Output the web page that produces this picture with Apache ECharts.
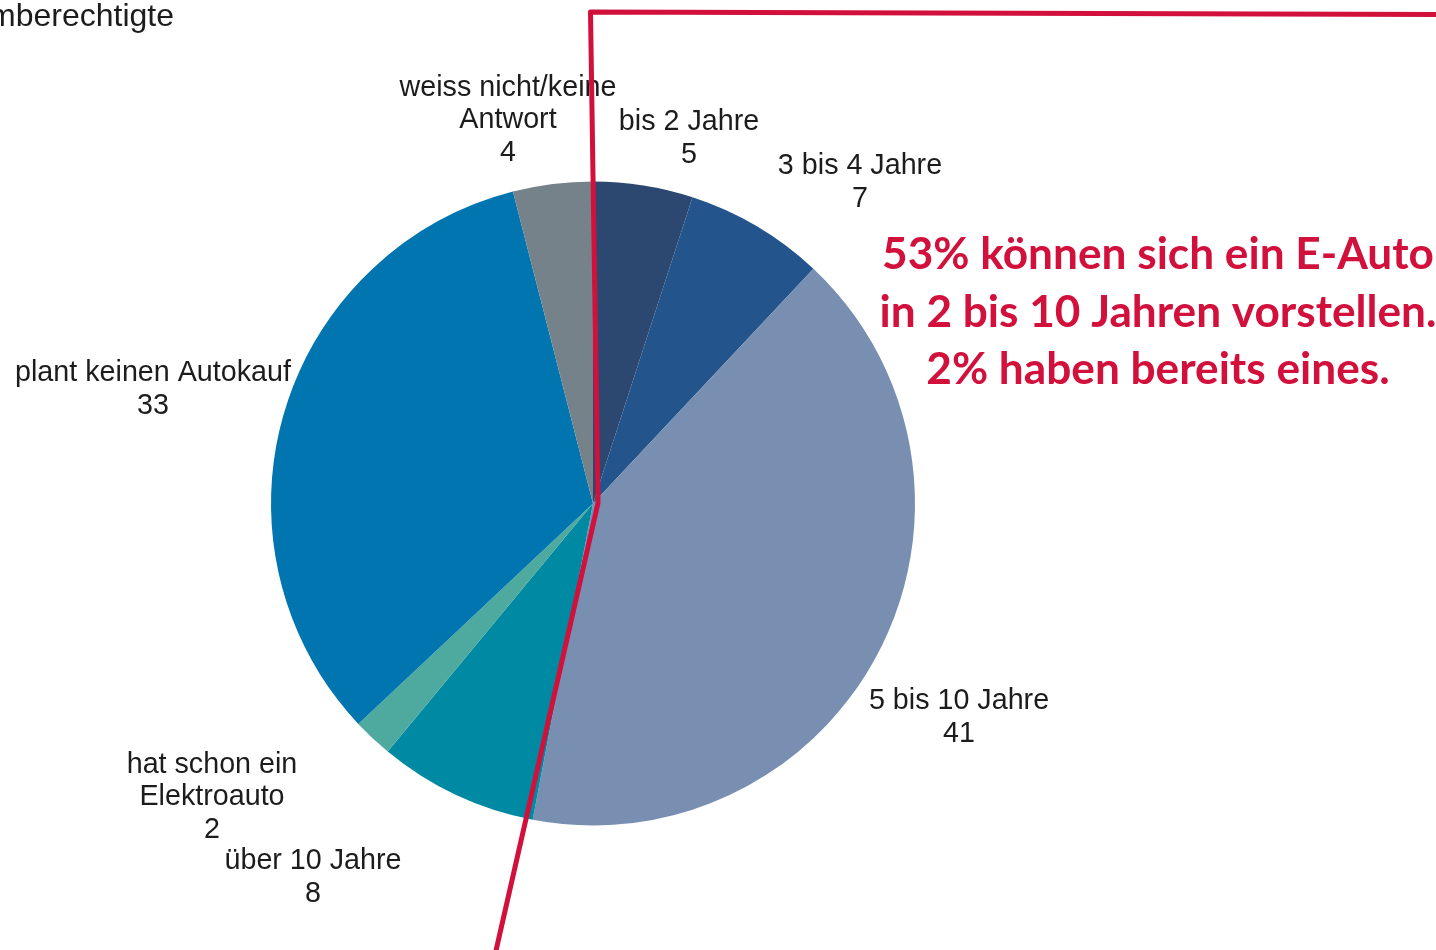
<!DOCTYPE html>
<html>
<head>
<meta charset="utf-8">
<script src="https://cdn.jsdelivr.net/npm/echarts@6/dist/echarts.min.js"></script>
<style>
  html, body { margin: 0; padding: 0; background: #fff; }
  #chart { width: 1436px; height: 950px; }
</style>
</head>
<body>
<div id="chart"></div>
<script>
// ---- data ----
const categories = [
  'bis 2 Jahre',
  '3 bis 4 Jahre',
  '5 bis 10 Jahre',
  'über 10 Jahre',
  'hat schon ein\nElektroauto',
  'plant keinen Autokauf',
  'weiss nicht/keine\nAntwort'
];
const values = [5, 7, 41, 8, 2, 33, 4];
const headerText = 'Stimmberechtigte';
const noteLines = [
  '53% können sich ein E-Auto',
  'in 2 bis 10 Jahren vorstellen.',
  '2% haben bereits eines.'
];

// ---- styling / layout ----
const colors = ['#2c4870', '#24548c', '#788fb2', '#0089a2', '#4ea99f', '#0075b0', '#76828a'];
const CX = 593, CY = 503.5, R = 322;
// label block centres, relative to pie centre (px)
const labelOffsets = [
  [96, -365],
  [267, -321],
  [366, 214],
  [-280, 374],
  [-381, 294],
  [-440, -114],
  [-85, -383]
];
const RED = '#d2103c';

const chart = echarts.init(document.getElementById('chart'), null, { renderer: 'canvas' });

// fit the red note font to the reference line width
function fitFont(text, target, family) {
  const c = document.createElement('canvas').getContext('2d');
  c.font = 'bold 100px ' + family;
  const w = c.measureText(text).width;
  return Math.round(100 * target / w * 10) / 10;
}
const noteFamily = 'Lato, "Open Sans", sans-serif';
const noteSize = fitFont(noteLines[0], 552, noteFamily);

const noteGraphics = noteLines.map((t, i) => ({
  type: 'text',
  z: 100,
  style: {
    text: t,
    x: 1158,
    y: 255 + i * 57.5,
    font: 'bold ' + noteSize + 'px ' + noteFamily,
    fill: RED,
    textAlign: 'center',
    textVerticalAlign: 'middle',
    align: 'center',
    verticalAlign: 'middle'
  }
}));

chart.setOption({
  animation: false,
  backgroundColor: '#ffffff',
  series: [{
    type: 'pie',
    center: [CX, CY],
    radius: [0, R],
    startAngle: 90,
    clockwise: true,
    avoidLabelOverlap: false,
    silent: true,
    itemStyle: { borderWidth: 0 },
    label: {
      show: true,
      position: 'outside',
      formatter: '{b}\n{c}',
      fontFamily: '"Liberation Sans", Arial, sans-serif',
      fontSize: 28.7,
      lineHeight: 32.5,
      color: '#1c1c1c',
      align: 'center'
    },
    labelLine: { show: false },
    labelLayout: function (params) {
      const o = labelOffsets[params.dataIndex];
      return {
        x: CX + o[0],
        y: CY + o[1],
        align: 'center',
        verticalAlign: 'middle',
        hideOverlap: false
      };
    },
    data: categories.map((c, i) => ({
      name: c,
      value: values[i],
      itemStyle: { color: colors[i] }
    }))
  }],
  graphic: [
    {
      type: 'text',
      z: 100,
      style: {
        text: headerText,
        x: 174,
        y: 17,
        font: '32px "Liberation Sans", Arial, sans-serif',
        fill: '#1c1c1c',
        textAlign: 'right',
        textVerticalAlign: 'middle',
        align: 'right',
        verticalAlign: 'middle'
      }
    },
    {
      type: 'polyline',
      z: 100,
      shape: { points: [[1440, 14.5], [590.5, 12], [598, 503], [495, 955]] },
      style: { stroke: RED, lineWidth: 5, fill: null, lineJoin: 'round' }
    }
  ].concat(noteGraphics)
});
</script>
</body>
</html>
